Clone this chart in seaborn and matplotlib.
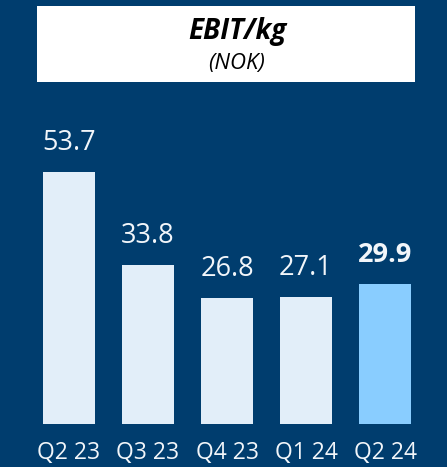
import matplotlib
matplotlib.use("Agg")
import matplotlib.pyplot as plt
from matplotlib.patches import Rectangle
import seaborn as sns
import pandas as pd

quarters = ["Q2 23", "Q3 23", "Q4 23", "Q1 24", "Q2 24"]
ebit_per_kg = [53.7, 33.8, 26.8, 27.1, 29.9]
highlight = "Q2 24"

BG = "#003D6E"
BAR = "#E2EEF9"
BAR_HI = "#89CDFF"
TXT = "#F2F6FA"

sns.set_theme(style="white")
plt.rcParams["font.family"] = ["Open Sans", "DejaVu Sans"]

W, H = 447, 467
fig = plt.figure(figsize=(W / 100, H / 100), dpi=100, facecolor=BG)

# title box
fig.patches.append(Rectangle((37 / W, 1 - 82 / H), (415 - 37) / W, (82 - 6) / H,
                             transform=fig.transFigure, facecolor="white",
                             edgecolor="none", zorder=0))
fig.text(237 / W, 1 - 31 / H, "EBIT/kg", ha="center", va="center",
         fontsize=20, fontweight="bold", fontstyle="italic", color="black")
fig.text(237 / W, 1 - 63 / H, "(NOK)", ha="center", va="center",
         fontsize=16, fontstyle="italic", color="black")

ax_left, ax_right = 29.5, 424.5
ax_bottom, ax_top = 424, 100
ax = fig.add_axes([ax_left / W, 1 - ax_bottom / H, (ax_right - ax_left) / W,
                   (ax_bottom - ax_top) / H])
ax.set_facecolor(BG)

df = pd.DataFrame({"quarter": quarters, "value": ebit_per_kg})
palette = {q: (BAR_HI if q == highlight else BAR) for q in quarters}
sns.barplot(data=df, x="quarter", y="value", hue="quarter", palette=palette,
            width=0.67, legend=False, ax=ax, saturation=1, linewidth=0,
            edgecolor="none")

scale = (ax_bottom - ax_top) / 69.0
ax.set_ylim(0, 69)
ax.set_xlim(-0.5, len(quarters) - 0.5)

for i, (q, v) in enumerate(zip(quarters, ebit_per_kg)):
    ax.text(i, v + 29 / scale, f"{v:.1f}", ha="center", va="center",
            fontsize=19.5, color=TXT,
            fontweight="bold" if q == highlight else "normal")

ax.set_xlabel("")
ax.set_ylabel("")
ax.set_yticks([])
ax.tick_params(axis="x", length=0, pad=12.5, labelsize=16.5, labelcolor=TXT)
for s in ax.spines.values():
    s.set_visible(False)

fig.savefig("out.png", dpi=100, facecolor=BG)
